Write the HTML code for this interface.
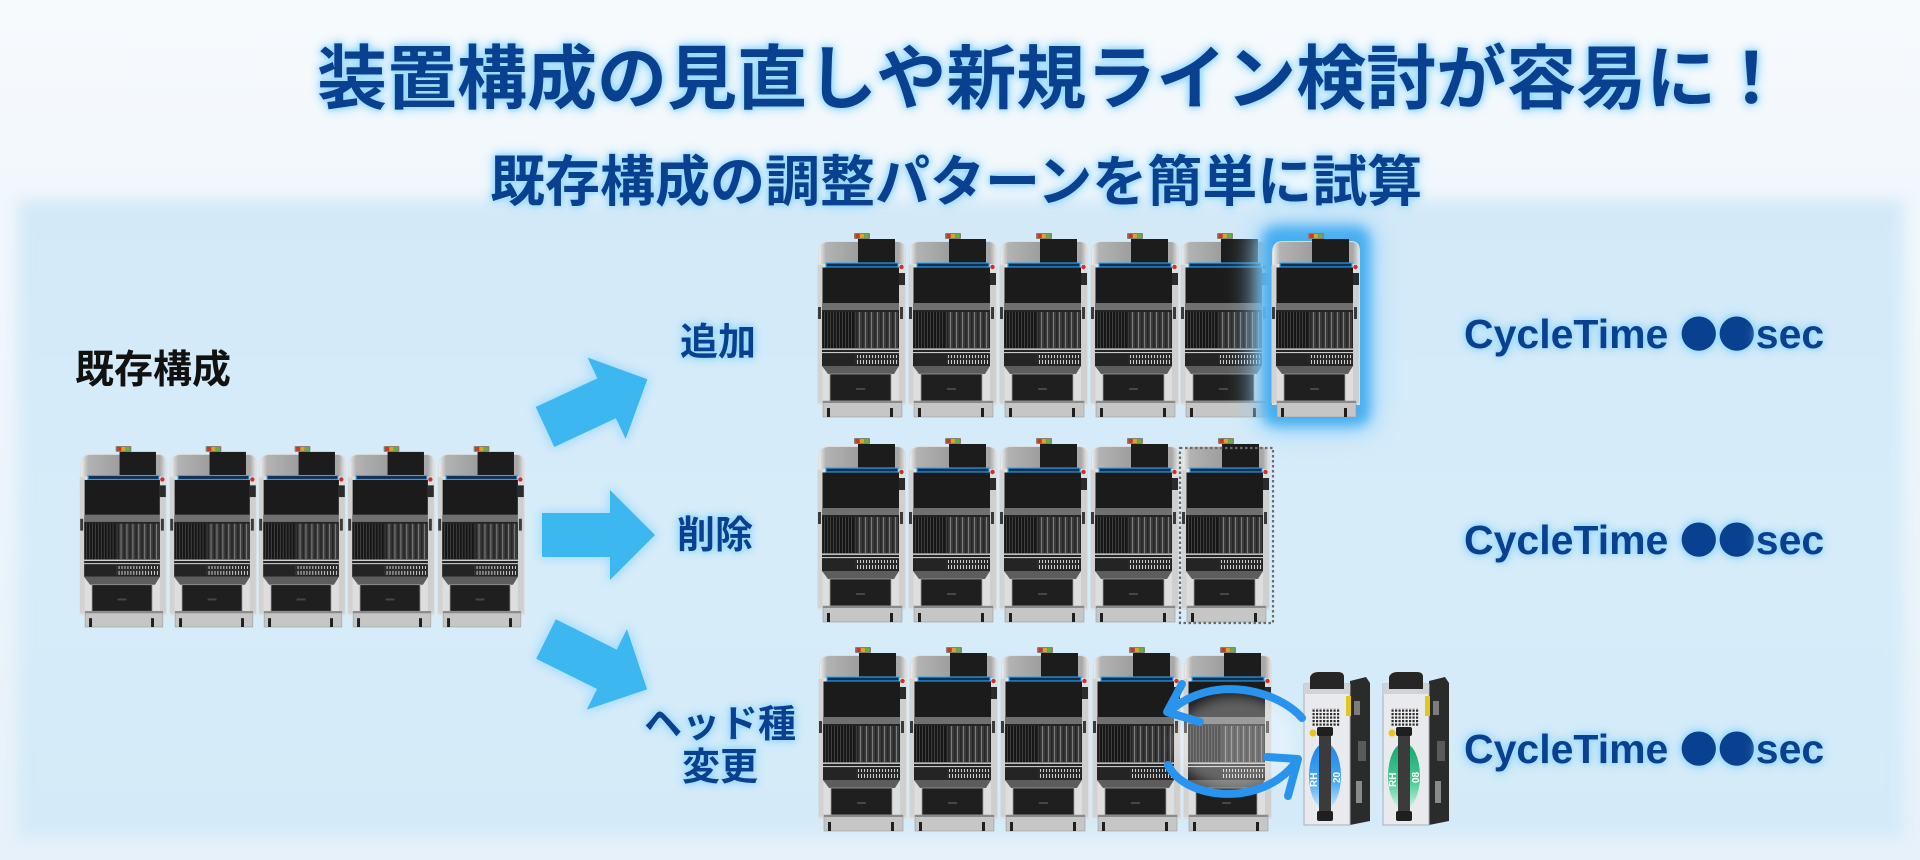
<!DOCTYPE html>
<html><head><meta charset="utf-8">
<style>
html,body{margin:0;padding:0;}
body{width:1920px;height:860px;overflow:hidden;position:relative;background:linear-gradient(#f7fafd 0,#f1f7fc 190px,#e6f1fa 860px);font-family:"Liberation Sans","Noto Sans CJK JP",sans-serif;}
.panel{position:absolute;left:18px;top:200px;width:1885px;height:636px;background:linear-gradient(#d3e9f8,#d7ecf9 55%,#d4eaf8);filter:blur(7px);}
svg.main{position:absolute;left:0;top:0;}
.t{position:absolute;white-space:nowrap;font-weight:700;color:#0a4090;}
.glow{text-shadow:0 0 2px #b5e5ff,0 0 5px #8fd5ff,0 0 9px #8fd5ff,0 0 14px #b0e2ff;}
.lbl{font-size:38px;line-height:38px;}
.ct{font-family:"Liberation Sans",sans-serif;font-size:41px;line-height:41px;left:1464px;}
.ct .d{font-family:"Noto Sans CJK JP","Liberation Sans",sans-serif;font-size:38px;letter-spacing:0px;}
</style></head>
<body>
<div class="panel"></div>
<svg class="main" width="1920" height="860" viewBox="0 0 1920 860" xmlns="http://www.w3.org/2000/svg">
<defs>
 <linearGradient id="gH" x1="0" x2="1" y1="0" y2="0">
  <stop offset="0" stop-color="#ededed"/><stop offset="0.08" stop-color="#b3b3b3"/><stop offset="0.5" stop-color="#9b9b9b"/><stop offset="0.93" stop-color="#a9a9a9"/><stop offset="1" stop-color="#e2e2e2"/>
 </linearGradient>
 <linearGradient id="gBlue" x1="0" x2="0" y1="0" y2="1">
  <stop offset="0" stop-color="#1c82e8"/><stop offset="0.6" stop-color="#4aaaf3"/><stop offset="1" stop-color="#d0ecff"/>
 </linearGradient>
 <linearGradient id="gGreen" x1="0" x2="0" y1="0" y2="1">
  <stop offset="0" stop-color="#10a66c"/><stop offset="0.6" stop-color="#4fcb98"/><stop offset="1" stop-color="#d4f5e7"/>
 </linearGradient>
 <pattern id="pL" width="3" height="8" patternUnits="userSpaceOnUse"><rect width="3" height="8" fill="#161616"/><rect x="1" width="0.8" height="8" fill="#4a4a4a"/></pattern>
 <pattern id="pR" width="6" height="8" patternUnits="userSpaceOnUse"><rect width="6" height="8" fill="#3b3b3b"/><rect x="0" width="1" height="8" fill="#7c7c7c"/><rect x="3" width="1.5" height="8" fill="#262626"/></pattern>
 <pattern id="pT" width="3" height="9" patternUnits="userSpaceOnUse"><rect width="3" height="9" fill="#2a2a2a"/><rect x="1" y="1" width="1" height="7" fill="#cfcfcf"/></pattern>
 <pattern id="pV" width="3.5" height="3.5" patternUnits="userSpaceOnUse"><rect width="3.5" height="3.5" fill="#f0f0f0"/><rect width="2.2" height="2.2" fill="#2d2d2d"/></pattern>
 <filter id="fBlur" x="-30%" y="-30%" width="160%" height="160%"><feGaussianBlur stdDeviation="6"/></filter>
 <filter id="fBlur2" x="-30%" y="-30%" width="160%" height="160%"><feGaussianBlur stdDeviation="14"/></filter>
 <filter id="fGlow" x="-30%" y="-30%" width="160%" height="160%">
  <feMorphology in="SourceAlpha" operator="dilate" radius="2" result="d"/>
  <feGaussianBlur in="d" stdDeviation="5" result="b"/>
  <feFlood flood-color="#a3dcff"/>
  <feComposite in2="b" operator="in" result="g"/>
  <feMerge><feMergeNode in="g"/><feMergeNode in="SourceGraphic"/></feMerge>
 </filter>
 <symbol id="mc" viewBox="0 0 90 185">
  <rect x="37" y="0" width="16" height="6" rx="1" fill="#8b7f6c"/>
  <rect x="38.5" y="1" width="4" height="4" fill="#c8382a"/>
  <rect x="43" y="1" width="4" height="4" fill="#d9a624"/>
  <rect x="47.5" y="1" width="4" height="4" fill="#62ad4c"/>
  <path d="M1 20 Q1 8 12 8 L80 8 Q89 8 89 18 L89 172 L1 172 Z" fill="#dedede"/>
  <path d="M2 20 Q2 9 12 9 L80 9 Q88 9 88 18 L88 31 L2 31 Z" fill="url(#gH)"/>
  <rect x="41" y="6" width="37" height="25" fill="#1c1c1c"/>
  <rect x="9" y="30" width="72" height="4" fill="#0f2f55" stroke="#2eaaf5" stroke-width="1.1"/>
  <circle cx="84.5" cy="34" r="2.2" fill="#c8322c"/>
  <rect x="5" y="34.5" width="77" height="35.5" fill="#1b1b1b"/>
  <rect x="82" y="40" width="6" height="12" fill="#2b2b2b"/>
  <rect x="0.5" y="32" width="5" height="138" fill="#d2d2d2"/>
  <rect x="1" y="74" width="3" height="12" fill="#3a3a3a"/>
  <rect x="82" y="52" width="6" height="118" fill="#cfcfcf"/>
  <rect x="83" y="74" width="3" height="12" fill="#3a3a3a"/>
  <rect x="5" y="70" width="77" height="7" fill="#707070"/>
  <rect x="5" y="77" width="77" height="56" fill="#242424"/>
  <rect x="6" y="79" width="31" height="36" fill="url(#pL)"/>
  <rect x="38" y="79" width="43" height="36" fill="url(#pR)"/>
  <rect x="5" y="115.5" width="77" height="1.3" fill="#e4e4e4"/>
  <rect x="5" y="119" width="77" height="1.1" fill="#c9c9c9"/>
  <rect x="38" y="122" width="43" height="9" fill="url(#pT)"/>
  <path d="M5 133 L82 133 L77 141 L11 141 Z" fill="#5d5d5d"/>
  <rect x="13" y="141" width="61" height="27" fill="#1f1f1f" stroke="#9a9a9a" stroke-width="0.8"/>
  <rect x="39" y="155" width="9" height="2" fill="#474747"/>
  <rect x="6" y="168" width="79" height="16" fill="#c6c6c6" stroke="#9c9c9c" stroke-width="0.6"/>
  <rect x="6" y="168" width="79" height="2" fill="#8a8a8a"/>
  <rect x="10" y="175" width="3" height="9" fill="#1f1f1f"/>
  <rect x="73" y="175" width="3" height="9" fill="#1f1f1f"/>
 </symbol>
</defs>

<!-- arrows -->
<g filter="url(#fGlow)" fill="#3cb7ef">
 <path transform="translate(545,427) rotate(-25)" d="M0 -22 H68 V-45 L113 0 L68 45 V22 H0 Z"/>
 <path transform="translate(542,535)" d="M0 -22 H68 V-45 L113 0 L68 45 V22 H0 Z"/>
 <path transform="translate(546,639) rotate(26.5)" d="M0 -22 H68 V-45 L113 0 L68 45 V22 H0 Z"/>
</g>

<!-- left existing config -->
<use href="#mc" x="79" y="446" width="89" height="182"/>
<use href="#mc" x="169" y="446" width="89" height="182"/>
<use href="#mc" x="258" y="446" width="89" height="182"/>
<use href="#mc" x="347" y="446" width="89" height="182"/>
<use href="#mc" x="437" y="446" width="89" height="182"/>

<!-- row 1 -->
<use href="#mc" x="817" y="233" width="90" height="185"/>
<use href="#mc" x="908" y="233" width="90" height="185"/>
<use href="#mc" x="999" y="233" width="90" height="185"/>
<use href="#mc" x="1090" y="233" width="90" height="185"/>
<use href="#mc" x="1180" y="233" width="90" height="185"/>
<rect x="1256" y="222" width="120" height="210" rx="18" fill="#9fd7fb" filter="url(#fBlur2)"/>
<rect x="1262" y="226" width="108" height="200" rx="14" fill="#47aef0" filter="url(#fBlur)"/>
<use href="#mc" x="1271" y="233" width="90" height="185"/>

<!-- row 2 -->
<use href="#mc" x="817" y="438" width="90" height="185"/>
<use href="#mc" x="908" y="438" width="90" height="185"/>
<use href="#mc" x="999" y="438" width="90" height="185"/>
<use href="#mc" x="1090" y="438" width="90" height="185"/>
<use href="#mc" x="1181" y="438" width="90" height="185"/>
<rect x="1180" y="448" width="93" height="175" fill="none" stroke="#6b6b6b" stroke-width="2.2" stroke-dasharray="2.5 2.5"/>

<!-- row 3 -->
<use href="#mc" x="818" y="647" width="90" height="185"/>
<use href="#mc" x="909" y="647" width="90" height="185"/>
<use href="#mc" x="1000" y="647" width="90" height="185"/>
<use href="#mc" x="1092" y="647" width="90" height="185"/>
<use href="#mc" x="1183" y="647" width="90" height="185"/>
<ellipse cx="1235" cy="742" rx="60" ry="46" fill="#ffffff" opacity="0.3" filter="url(#fBlur)"/>

<!-- head 1 -->
<g transform="translate(1302,671)">
 <path d="M48 10 L64 6 L68 12 L68 150 L48 154 Z" fill="#2b2b2b"/>
 <rect x="52" y="30" width="6" height="14" fill="#7d7d7d"/>
 <rect x="56" y="70" width="8" height="20" fill="#5a5a5a"/>
 <rect x="54" y="110" width="6" height="22" fill="#8a8a8a"/>
 <rect x="2" y="13" width="46" height="141" fill="#e8eaed" stroke="#aab0b6" stroke-width="1"/>
 <rect x="2" y="13" width="46" height="10" fill="#d0d3d6"/>
 <path d="M8 18 L8 6 Q10 1 16 1 L36 1 Q42 1 42 6 L42 18 Z" fill="#262626"/>
 <rect x="44" y="25" width="5" height="20" fill="#e3c51f"/>
 <rect x="10" y="37" width="28" height="18" fill="url(#pV)"/>
 <circle cx="11" cy="62" r="3.5" fill="#e8c51a"/>
 <ellipse cx="23" cy="105" rx="16" ry="33" fill="url(#gBlue)"/>
 <rect x="17" y="58" width="12" height="92" rx="2" fill="#3b3b3b"/>
 <rect x="15" y="56" width="16" height="9" rx="2" fill="#1f1f1f"/>
 <rect x="15" y="140" width="16" height="10" rx="2" fill="#1f1f1f"/>
 <text transform="translate(15,116) rotate(-90)" font-family="Liberation Sans,sans-serif" font-size="10" font-weight="700" fill="#ffffff">RH</text>
 <text transform="translate(38,112) rotate(-90)" font-family="Liberation Sans,sans-serif" font-size="10" font-weight="700" fill="#ffffff">20</text>
</g>
<!-- head 2 -->
<g transform="translate(1381,671)">
 <path d="M48 10 L64 6 L68 12 L68 150 L48 154 Z" fill="#2b2b2b"/>
 <rect x="52" y="30" width="6" height="14" fill="#7d7d7d"/>
 <rect x="56" y="70" width="8" height="20" fill="#5a5a5a"/>
 <rect x="54" y="110" width="6" height="22" fill="#8a8a8a"/>
 <rect x="2" y="13" width="46" height="141" fill="#e8eaed" stroke="#aab0b6" stroke-width="1"/>
 <rect x="2" y="13" width="46" height="10" fill="#d0d3d6"/>
 <path d="M8 18 L8 6 Q10 1 16 1 L36 1 Q42 1 42 6 L42 18 Z" fill="#262626"/>
 <rect x="44" y="25" width="5" height="20" fill="#e3c51f"/>
 <rect x="10" y="37" width="28" height="18" fill="url(#pV)"/>
 <circle cx="11" cy="62" r="3.5" fill="#e8c51a"/>
 <ellipse cx="23" cy="105" rx="16" ry="33" fill="url(#gGreen)"/>
 <rect x="17" y="58" width="12" height="92" rx="2" fill="#3b3b3b"/>
 <rect x="15" y="56" width="16" height="9" rx="2" fill="#1f1f1f"/>
 <rect x="15" y="140" width="16" height="10" rx="2" fill="#1f1f1f"/>
 <text transform="translate(15,116) rotate(-90)" font-family="Liberation Sans,sans-serif" font-size="10" font-weight="700" fill="#ffffff">RH</text>
 <text transform="translate(38,112) rotate(-90)" font-family="Liberation Sans,sans-serif" font-size="10" font-weight="700" fill="#ffffff">08</text>
</g>

<!-- swap arrows -->
<g fill="none" stroke="#2894ee" stroke-width="8" stroke-linecap="round" stroke-linejoin="round">
 <path d="M1302 718 C1280 692 1215 672 1170 711"/>
 <path d="M1182 684 L1167 712 L1200 722"/>
 <path d="M1168 765 C1185 800 1262 808 1296 762"/>
 <path d="M1267 757 L1298 759 L1288 796"/>
</g>
</svg>

<div class="t glow" style="left:317px;top:44px;font-size:70px;line-height:70px;">装置構成の見直しや新規ライン検討が容易に！</div>
<div class="t glow" style="left:490px;top:155px;font-size:55px;line-height:55px;">既存構成の調整パターンを簡単に試算</div>
<div class="t" style="left:75px;top:351px;font-size:39px;line-height:39px;color:#111;">既存構成</div>

<div class="t glow lbl" style="left:680px;top:324px;">追加</div>
<div class="t glow lbl" style="left:677px;top:517px;">削除</div>
<div class="t glow" style="left:644px;top:704px;width:152px;text-align:center;font-size:38px;line-height:43px;">ヘッド種<br>変更</div>

<div class="t glow ct" style="top:311px;">CycleTime <span class="d">●●</span>sec</div>
<div class="t glow ct" style="top:517px;">CycleTime <span class="d">●●</span>sec</div>
<div class="t glow ct" style="top:726px;">CycleTime <span class="d">●●</span>sec</div>
</body></html>
